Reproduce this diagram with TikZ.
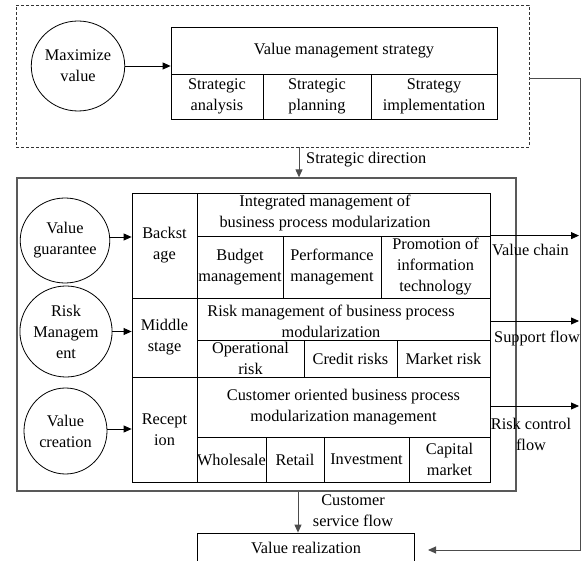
\documentclass[tikz,border=0pt]{standalone}
\usepackage{fontspec}
\setmainfont{Liberation Serif}
\usetikzlibrary{arrows.meta,shapes.geometric,calc}
\newcommand\mkcell[7][]{%
  \pgfmathsetmacro\mkw{#5-#3}%
  \pgfmathsetmacro\mkh{#6-#4}%
  \node[cellbox,minimum width=\mkw pt,minimum height=\mkh pt,#1] (#2) at ({(#3+#5)/2},{(#4+#6)/2}) {#7};}
\begin{document}
\begin{tikzpicture}[x=1pt,y=-1pt,
  txt/.style={font={\fontsize{16.3}{21}\selectfont},align=center,inner sep=0pt},
  cellbox/.style={draw=black,line width=0.8pt,inner sep=0pt,txt},
  circ/.style={draw=black,line width=0.8pt,ellipse,inner sep=0pt,txt},
  arr/.style={draw=black,line width=0.8pt,-{Triangle[length=8pt,width=7pt]}},
  garr/.style={draw=black!70,line width=1pt,-{Triangle[length=8pt,width=7pt]}},
  dashbox/.style={draw=black!80,line width=0.7pt,dash pattern=on 3pt off 2pt,inner sep=0pt},
  outerbox/.style={draw=black!65,line width=1.3pt,inner sep=0pt}]
\useasboundingbox (0,0) rectangle (581,561);
\clip (0,0) rectangle (581,561);
% top dashed group
\mkcell[dashbox]{dash}{16}{5}{529}{147}{}
\node[circ,minimum width=82pt,minimum height=90pt] (maxv) at (78,66) {Maximize\\value};
\mkcell{vms}{171}{27}{497}{74}{}
\node[txt] (tvms) at (344,51) {Value management strategy};
\mkcell{sa}{171}{74}{263}{119}{Strategic\\analysis}
\mkcell{sp}{263}{74}{371}{119}{Strategic\\planning}
\mkcell{si}{371}{74}{497}{119}{Strategy\\implementation}
\draw[arr] (maxv.east) -- (maxv.east -| vms.west);
% outer solid box
\mkcell[outerbox]{outer}{17}{178}{516}{491}{}
\coordinate (sdx) at (299,0);
\draw[garr] (dash.south -| sdx) -- (outer.north -| sdx);
\node[txt,anchor=west] (tsd) at (306,160) {Strategic direction};
% circles
\node[circ,minimum width=82pt,minimum height=85pt] (vg) at (65,240.5) {Value\\guarantee};
\node[circ,minimum width=81pt,minimum height=91pt] (rm) at (66,331.5) {Risk\\Managem\\ent};
\node[circ,minimum width=83pt,minimum height=86pt] (vc) at (65.5,431) {Value\\creation};
% table: backstage
\mkcell{bs}{132}{193}{197}{298}{Backst\\age}
\mkcell{bsh}{197}{193}{490}{236}{}
\node[txt] (tbsh) at (325,212.5) {Integrated management of\\business process modularization};
\mkcell{b1}{197}{236}{283}{298}{Budget\\management}
\mkcell{b2}{283}{236}{381}{298}{Performance\\management}
\mkcell{b3}{381}{236}{490}{298}{Promotion of\\information\\technology}
% middle stage
\mkcell{ms}{132}{298}{197}{377}{Middle\\stage}
\mkcell{msh}{197}{298}{490}{340}{}
\node[txt] (tmsh) at (331,321) {Risk management of business process\\modularization};
\mkcell{m1}{197}{340}{304}{377}{Operational\\risk}
\mkcell{m2}{304}{340}{397}{377}{Credit risks}
\mkcell{m3}{397}{340}{490}{377}{Market risk}
% reception
\mkcell{rs}{132}{377}{197}{482}{Recept\\ion}
\mkcell{rsh}{197}{377}{490}{437}{Customer oriented business process\\modularization management}
\mkcell{r1}{197}{437}{266}{482}{Wholesale}
\mkcell{r2}{266}{437}{324}{482}{Retail}
\mkcell{r3}{324}{437}{409}{482}{Investment}
\mkcell{r4}{409}{437}{490}{482}{Capital\\market}
% circle arrows
\draw[arr] (vg.east |- 0,237) -- (bs.west |- 0,237);
\draw[arr] (rm.east) -- (rm.east -| ms.west);
\draw[arr] (vc.east |- 0,429) -- (rs.west |- 0,429);
% right flows
\coordinate (rx) at (579,0);
\draw[arr] (b3.north east) -- (b3.north east -| rx);
\node[txt,anchor=west] (tvc) at (492,250) {Value chain};
\draw[arr] (msh.east |- 0,321) -- (rx |- 0,321);
\node[txt,anchor=west] (tsf) at (494,338) {Support flow};
\draw[arr] (rsh.east |- 0,406) -- (rx |- 0,406);
\node[txt] (trc) at (531,434.5) {Risk control\\flow};
% bottom
\mkcell{vr}{197}{533}{414}{567}{}
\node[txt] (tvr) at (306,548) {Value realization};
\draw[garr] (outer.south -| 298,0) -- (vr.north -| 298,0);
\node[txt] (tcs) at (353,511) {Customer\\service flow};
% right return connector
\coordinate (cR) at (580,550);
\coordinate (vrtip) at (428,550);
\draw[garr] ([yshift=-3pt]dash.east) -| (cR) -- (vrtip);
\end{tikzpicture}
\end{document}
